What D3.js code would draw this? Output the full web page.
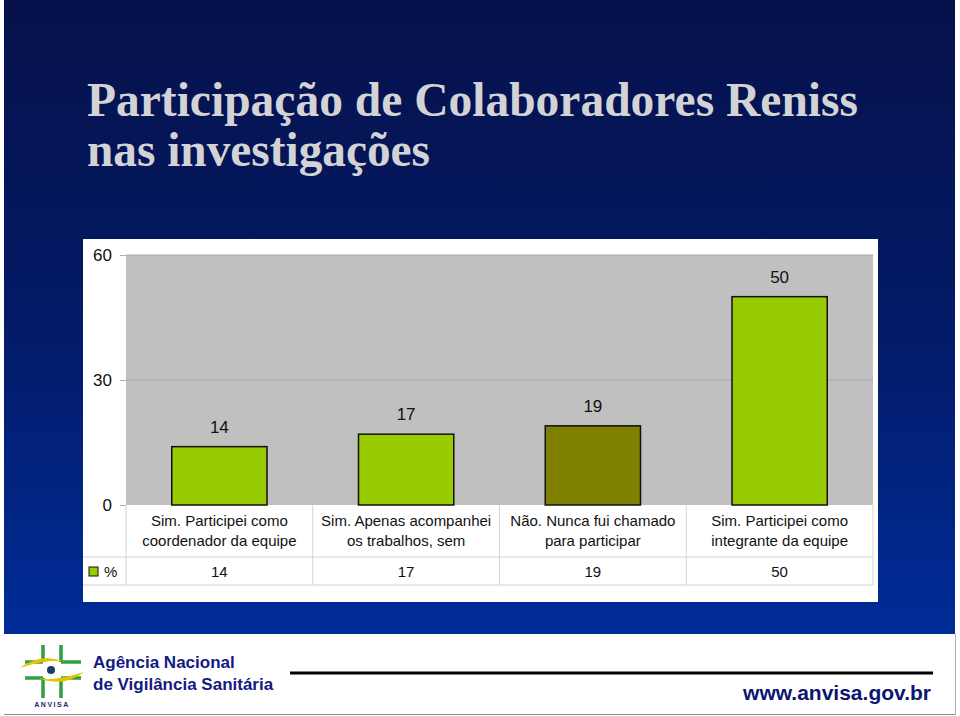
<!DOCTYPE html>
<html><head><meta charset="utf-8">
<script src="https://cdn.jsdelivr.net/npm/d3@7"></script>
<style>html,body{margin:0;padding:0;background:#fff;}svg{display:block;}</style>
</head><body>
<script>
const categories = ["c1","c2","c3","c4"];
const categoryLines = [
  ["Sim. Participei como","coordenador da equipe"],
  ["Sim. Apenas acompanhei","os trabalhos, sem"],
  ["Não. Nunca fui chamado","para participar"],
  ["Sim. Participei como","integrante da equipe"]
];
const values = [14, 17, 19, 50];
const barColors = ["#99cc00","#99cc00","#808000","#99cc00"];
const yTicks = [0, 30, 60];
const seriesName = "%";
const titleLines = ["Participação de Colaboradores Reniss","nas investigações"];

const W = 960, H = 716;
const svg = d3.select("body").append("svg").attr("width", W).attr("height", H);
const defs = svg.append("defs");
const g = defs.append("linearGradient").attr("id","bg").attr("x1",0).attr("y1",0).attr("x2",0).attr("y2",1);
g.append("stop").attr("offset","0").attr("stop-color","#06114a");
g.append("stop").attr("offset","0.5").attr("stop-color","#031a66");
g.append("stop").attr("offset","1").attr("stop-color","#002c98");

svg.append("rect").attr("x",0).attr("y",0).attr("width",W).attr("height",H).attr("fill","#fff");
svg.append("rect").attr("x",4).attr("y",0).attr("width",951).attr("height",634).attr("fill","url(#bg)");

// title
const tl = [[771,116],[343,166]];
titleLines.forEach((t,i)=>{
  svg.append("text").attr("x",87).attr("y",tl[i][1]).text(t)
    .attr("font-family","'Liberation Serif','Times New Roman',serif").attr("font-weight","bold")
    .attr("font-size",48).attr("fill","#d3d3d6")
    .attr("textLength",tl[i][0]).attr("lengthAdjust","spacingAndGlyphs");
});

// chart box
svg.append("rect").attr("x",83).attr("y",239).attr("width",795).attr("height",363).attr("fill","#fff");

const x = d3.scaleBand().domain(categories).range([126,873]).padding(0);
const y = d3.scaleLinear().domain([0,60]).range([505,255]);

svg.append("rect").attr("x",126).attr("y",y(60)).attr("width",873-126).attr("height",y(0)-y(60)).attr("fill","#c0c0c0");

// gridlines
svg.append("g").selectAll("line").data(yTicks.filter(v=>v>0)).join("line")
  .attr("x1",126).attr("x2",873).attr("y1",d=>y(d)).attr("y2",d=>y(d))
  .attr("stroke","#a6a6a6").attr("stroke-width",1);

// y axis
const ya = svg.append("g").attr("transform","translate(126,0)")
  .call(d3.axisLeft(y).tickValues(yTicks).tickSize(6).tickPadding(8));
ya.select(".domain").remove();
ya.selectAll(".tick line").attr("stroke","#b0b0b0");
ya.selectAll(".tick text").attr("font-family","Arial,'Liberation Sans',sans-serif").attr("font-size",17).attr("fill","#111").attr("dy","0.3em");

// bars
const bw = x.bandwidth()*0.51;
svg.append("g").selectAll("rect").data(values).join("rect")
  .attr("x",(d,i)=>x(categories[i])+x.bandwidth()/2-bw/2)
  .attr("y",d=>y(d)).attr("width",bw).attr("height",d=>y(0)-y(d))
  .attr("fill",(d,i)=>barColors[i]).attr("stroke","#111").attr("stroke-width",1.5);

svg.append("g").selectAll("text").data(values).join("text")
  .attr("x",(d,i)=>x(categories[i])+x.bandwidth()/2).attr("y",d=>y(d)-14)
  .attr("text-anchor","middle").attr("font-family","Arial,'Liberation Sans',sans-serif")
  .attr("font-size",17).attr("fill","#111").text(d=>d);

// data table
const tb = svg.append("g");
const rowTop = 505, rowMid = 557, rowBot = 585;
const lc = "#d4d4d4";
tb.append("line").attr("x1",126).attr("x2",873).attr("y1",rowMid).attr("y2",rowMid).attr("stroke",lc);
tb.append("line").attr("x1",83).attr("x2",126).attr("y1",rowMid).attr("y2",rowMid).attr("stroke",lc);
tb.append("line").attr("x1",83).attr("x2",873).attr("y1",rowBot).attr("y2",rowBot).attr("stroke",lc);
tb.append("line").attr("x1",873).attr("x2",873).attr("y1",rowTop).attr("y2",rowBot).attr("stroke",lc);
tb.append("line").attr("x1",126).attr("x2",126).attr("y1",rowTop).attr("y2",rowBot).attr("stroke",lc);
tb.selectAll(".vl").data(categories.slice(1)).join("line").attr("class","vl")
  .attr("x1",d=>x(d)).attr("x2",d=>x(d)).attr("y1",rowTop).attr("y2",rowBot).attr("stroke",lc);

categoryLines.forEach((lines,i)=>{
  lines.forEach((t,j)=>{
    tb.append("text").attr("x",x(categories[i])+x.bandwidth()/2).attr("y",526+j*20)
      .attr("text-anchor","middle").attr("font-family","Arial,'Liberation Sans',sans-serif")
      .attr("font-size",15).attr("fill","#111").text(t);
  });
});
tb.selectAll(".vv").data(values).join("text").attr("class","vv")
  .attr("x",(d,i)=>x(categories[i])+x.bandwidth()/2).attr("y",577)
  .attr("text-anchor","middle").attr("font-family","Arial,'Liberation Sans',sans-serif")
  .attr("font-size",15).attr("fill","#111").text(d=>d);
tb.append("rect").attr("x",89).attr("y",567).attr("width",9).attr("height",9).attr("fill","#99cc00").attr("stroke","#111").attr("stroke-width",1);
tb.append("text").attr("x",104).attr("y",577).attr("font-family","Arial,'Liberation Sans',sans-serif").attr("font-size",15).attr("fill","#111").text(seriesName);

// footer
const ft = svg.append("g");
ft.append("line").attr("x1",4).attr("x2",956).attr("y1",714.5).attr("y2",714.5).attr("stroke","#8a9099").attr("stroke-width",1);
ft.append("line").attr("x1",955.5).attr("x2",955.5).attr("y1",634).attr("y2",715).attr("stroke","#b0b4ba").attr("stroke-width",1);
ft.append("line").attr("x1",290).attr("x2",933).attr("y1",673).attr("y2",673).attr("stroke","#000").attr("stroke-width",3);
ft.append("text").attr("x",93).attr("y",668).attr("font-family","Arial,'Liberation Sans',sans-serif").attr("font-weight","bold").attr("font-size",17).attr("fill","#131a82").text("Agência Nacional");
ft.append("text").attr("x",93).attr("y",690).attr("font-family","Arial,'Liberation Sans',sans-serif").attr("font-weight","bold").attr("font-size",17).attr("fill","#131a82").text("de Vigilância Sanitária");
ft.append("text").attr("x",931).attr("y",700).attr("text-anchor","end").attr("font-family","Arial,'Liberation Sans',sans-serif").attr("font-weight","bold").attr("font-size",21).attr("fill","#0d1570").text("www.anvisa.gov.br");

// logo
const lg = ft.append("g");
const gc = "#2ea043";
[[43,645,43,662],[25,662,43,662],[61,645,61,662],[61,662,81,662],[25,678,43,678],[43,678,43,698],[61,678,81,678],[61,678,61,698]]
  .forEach(s=>lg.append("line").attr("x1",s[0]).attr("y1",s[1]).attr("x2",s[2]).attr("y2",s[3]).attr("stroke",gc).attr("stroke-width",3.5));
lg.append("path").attr("d","M20,668 Q40,652 66,662 Q52,658 20,668 Z").attr("fill","#e6c200");
lg.append("path").attr("d","M84,672 Q64,688 38,678 Q52,682 84,672 Z").attr("fill","#e6c200");
lg.append("circle").attr("cx",51).attr("cy",670).attr("r",4).attr("fill","#1d3a6e");
lg.append("text").attr("x",52).attr("y",707).attr("text-anchor","middle").attr("font-family","Arial,sans-serif").attr("font-weight","bold").attr("font-size",7).attr("letter-spacing",1.5).attr("fill","#1a2a6a").text("ANVISA");
</script>
</body></html>
